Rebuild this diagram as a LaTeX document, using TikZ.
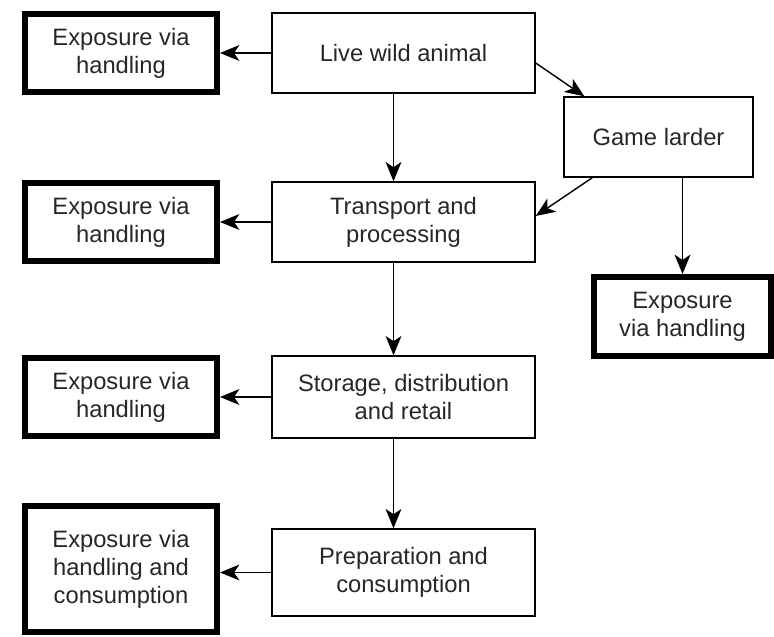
\documentclass[tikz,border=0pt]{standalone}
\usepackage{fontspec}
\setmainfont{Liberation Sans}
\usetikzlibrary{arrows.meta, positioning}

\begin{document}
\begin{tikzpicture}[auto, line width=.8pt, >={Stealth[length=11pt, width=9pt, inset=3pt]},
  stage box/.style={rectangle, draw, minimum width=5.26cm, minimum height=1.6cm, align=center, font=\fontsize{13.5}{16}\selectfont, text=black!85},
  hand box/.style={rectangle, draw, line width=.12cm, minimum width=3.84cm, minimum height=1.56cm, align=center, font=\fontsize{13.5}{16}\selectfont, text=black!85}]
\useasboundingbox (0,0) rectangle (15.48,-12.74);
\node[stage box](live) at (8.07,-1.06) {Live wild animal};
\node[stage box, node distance=3.38cm](transport)[below of=live]{Transport and\\processing};
\node[stage box, node distance=3.5cm, minimum height=1.64cm](storage)[below of=transport]{Storage, distribution\\and retail};
\node[stage box, node distance=3.51cm, minimum height=1.74cm](prep)[below of=storage]{Preparation and\\consumption};
\node[stage box, minimum width=3.78cm](larder) at (13.17,-2.74) {Game larder};
\node[hand box, minimum width=3.54cm, minimum height=1.58cm](hand-larder) at (13.65,-6.33) {Exposure\\via handling};
\tikzset{node distance=5.65cm}
\foreach \s in {live, transport, storage}{
    \node[hand box](hand-\s)[left of=\s]{Exposure via\\handling};
    \draw[->] (\s.west) -- (hand-\s.east);}
\node[hand box, minimum height=2.52cm, yshift=.07cm](hand-prep)[left of=prep]{Exposure via\\handling and\\consumption};
\draw[->] (prep.west) -- (prep.west -| hand-prep.east);
\foreach \a/\b in {live/transport, transport/storage, storage/prep}
    \draw[->] ([xshift=-.2cm]\a.south) -- ([xshift=-.2cm]\b.north);
\draw[->] ([yshift=-.2cm]live.east) -- ([xshift=.42cm]larder.north west);
\draw[->] ([xshift=.58cm]larder.south west) -- ([yshift=.12cm]transport.east);
\draw[->] (larder.south -| hand-larder.north) -- (hand-larder.north);
\end{tikzpicture}
\end{document}
